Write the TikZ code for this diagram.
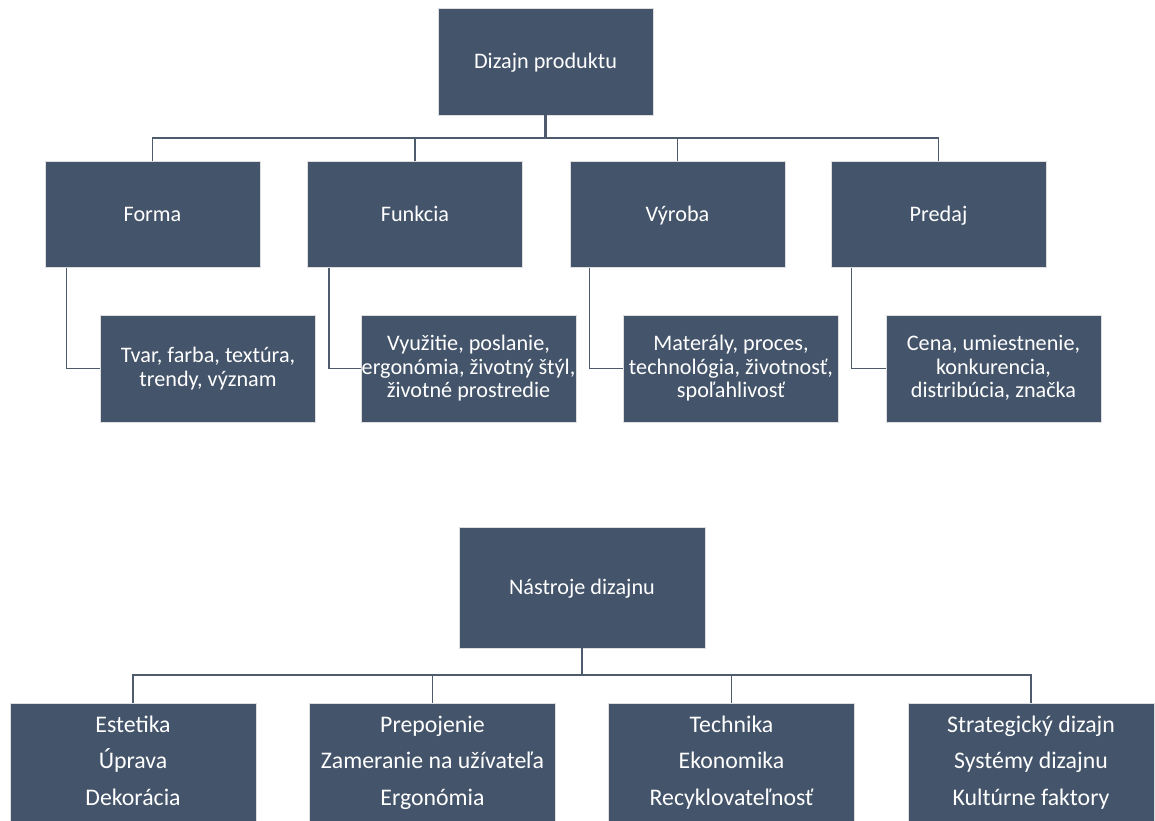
\documentclass[tikz,border=0pt]{standalone}
\usepackage{fontspec}
\setmainfont{Carlito}
\usepackage{tikz}
\usetikzlibrary{shapes,arrows}
\definecolor{slate}{HTML}{44546A}
\definecolor{wire}{HTML}{4E5B6D}
\newcommand{\boxstrut}{\vphantom{Ťg}}
\tikzstyle{block} = [rectangle, draw=black!13, line width=0.8pt, fill=slate,
    text=white, align=center, minimum width=215pt, minimum height=106pt,
    inner sep=0pt, font=\fontsize{22.2}{23.5}\selectfont,
    execute at begin node=\boxstrut, execute at end node=\boxstrut]
\tikzstyle{tool} = [block, minimum width=246pt, minimum height=119pt,
    font=\fontsize{23.8}{36.5}\selectfont]
\tikzstyle{line} = [draw=wire, line width=1.5pt]
\tikzstyle{trunk} = [line, line width=2.6pt]

\begin{document}
\begin{tikzpicture}[x=1pt, y=-1pt]
      \useasboundingbox (0,0) rectangle (1155,820);
      % product design tree
      \node [block, minimum height=107pt] (produkt) at (545.5,61.5) {Dizajn produktu};
      \node [block] (forma) at (152.5,214.5) {Forma};
      \node [block, right of=forma, node distance=262.5pt] (funkcia) {Funkcia};
      \node [block, right of=funkcia, node distance=262.5pt] (vyroba) {Výroba};
      \node [block, right of=vyroba, node distance=261pt] (predaj) {Predaj};
      \node [block, minimum height=107pt] (tvar) at (208,368.5)
         {Tvar, farba, textúra,\\trendy, význam};
      \node [block, minimum height=107pt] (vyuzitie) at (468.5,368.5)
         {Využitie, poslanie,\\ergonómia, životný štýl,\\životné prostredie};
      \node [block, minimum height=107pt] (materialy) at (731,368.5)
         {Materály, proces,\\technológia, životnosť,\\spoľahlivosť};
      \node [block, minimum height=107pt] (cena) at (993.5,368.5)
         {Cena, umiestnenie,\\konkurencia,\\distribúcia, značka};
      \coordinate (bus1) at (545.5,138);

      \path [trunk] (produkt) -- (bus1);
      \path [line] (forma.north) |- (bus1);
      \path [line] (funkcia.north) |- (bus1);
      \path [line] (vyroba.north) |- (bus1);
      \path [line] (predaj.north) |- (bus1);
      \path [line] ([xshift=22pt]forma.south west) |- (tvar.west);
      \path [line] ([xshift=22pt]funkcia.south west) |- (vyuzitie.west);
      \path [line] ([xshift=20pt]vyroba.south west) |- (materialy.west);
      \path [line] ([xshift=21pt]predaj.south west) |- (cena.west);

      % design tools tree
      \node [block, minimum width=246pt, minimum height=121pt] (nastroje) at (582,587.5)
         {Nástroje dizajnu};
      \node [tool] (estetika) at (133,762.5) {Estetika\\Úprava\\Dekorácia};
      \node [tool, right of=estetika, node distance=299.5pt] (prepojenie)
         {Prepojenie\\Zameranie na užívateľa\\Ergonómia};
      \node [tool, right of=prepojenie, node distance=299pt] (technika)
         {Technika\\Ekonomika\\Recyklovateľnosť};
      \node [tool, right of=technika, node distance=299.5pt] (strategia)
         {Strategický dizajn\\Systémy dizajnu\\Kultúrne faktory};
      \coordinate (bus2) at (582,675);

      \path [trunk] (nastroje) -- (bus2);
      \path [line] (estetika.north) |- (bus2);
      \path [line] (prepojenie.north) |- (bus2);
      \path [line] (technika.north) |- (bus2);
      \path [line] (strategia.north) |- (bus2);
   \end{tikzpicture}
\end{document}
